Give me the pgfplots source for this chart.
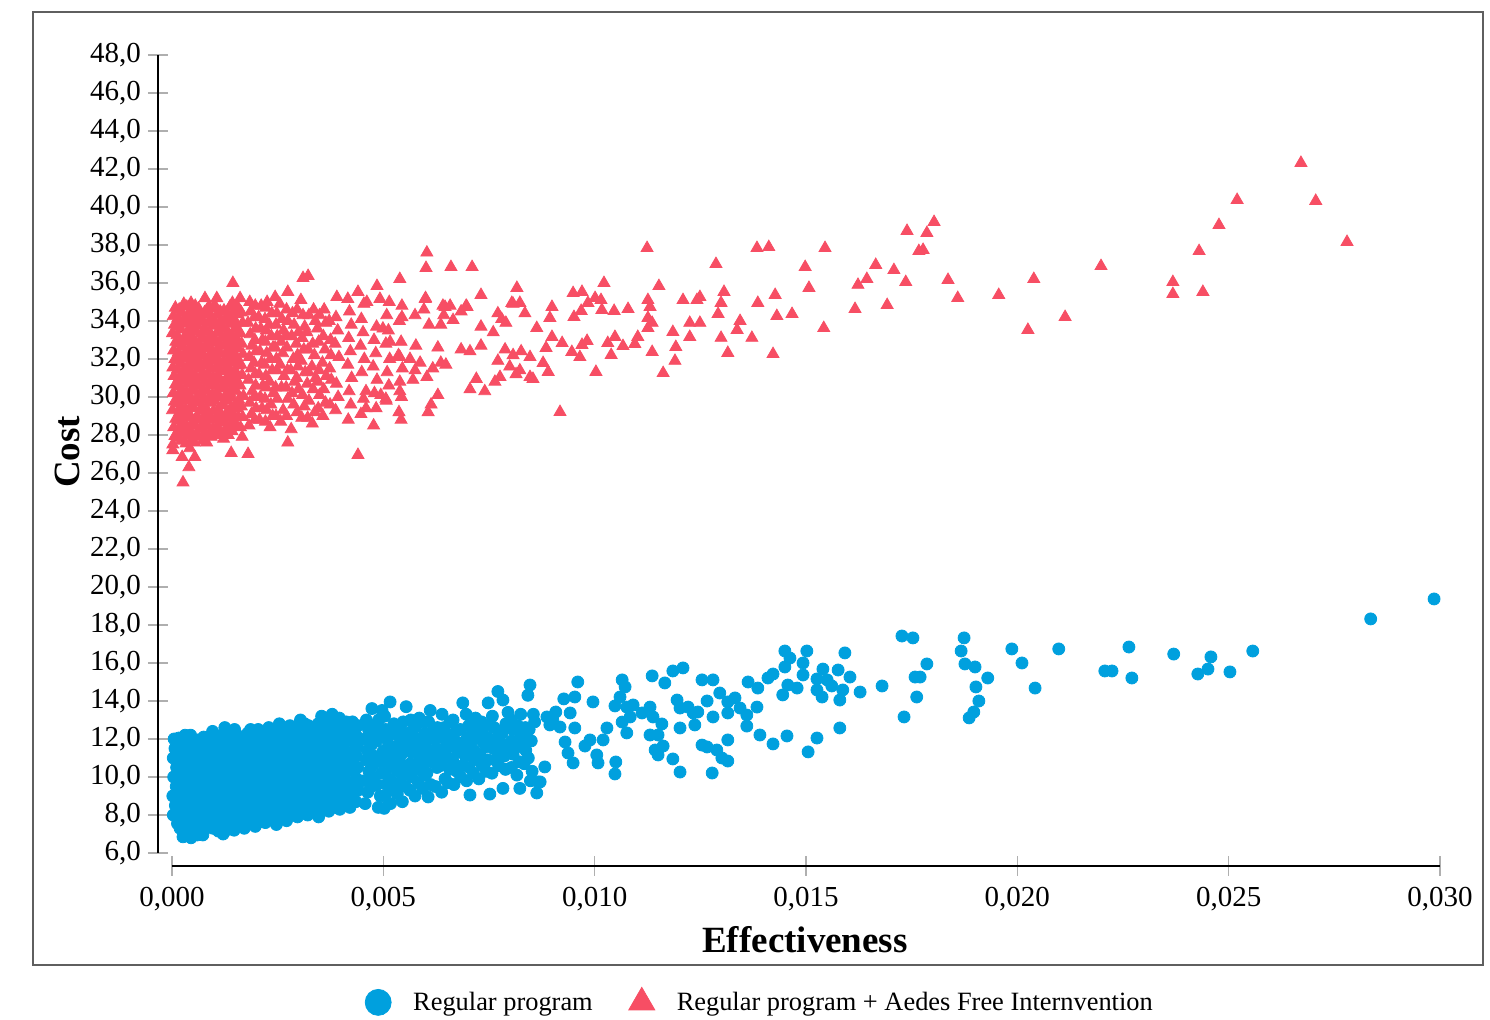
\documentclass[border=0pt]{standalone}
\usepackage{pgfplots}
\pgfplotsset{compat=1.18}
\usepackage{fontspec}
\setmainfont{Liberation Serif}
\definecolor{cblue}{RGB}{0,160,222}
\definecolor{cred}{RGB}{247,78,100}
\definecolor{framegray}{RGB}{95,95,95}
\definecolor{tickgray}{RGB}{175,175,175}
\pgfplotstableread{
x y
0.00003 8.0
0.00008 8.5
0.00002 9.0
0.00010 9.5
0.00004 10.0
0.00011 10.5
0.00003 11.0
0.00007 11.5
0.00005 12.0
0.00019 7.3
0.00028 7.8
0.00022 8.3
0.00031 8.8
0.00018 9.3
0.00026 9.8
0.00033 10.3
0.00020 10.8
0.00029 11.3
0.00024 11.8
0.00031 12.2
0.00026 6.85
0.00045 6.8
0.00052 7.2
0.00048 7.7
0.00056 8.2
0.00043 8.7
0.00051 9.2
0.00058 9.7
0.00046 10.2
0.00054 10.7
0.00049 11.2
0.00057 11.7
0.00044 12.2
0.00072 7.1
0.00079 7.6
0.00068 8.1
0.00076 8.6
0.00081 9.1
0.00070 9.6
0.00077 10.1
0.00073 10.6
0.00080 11.1
0.00069 11.6
0.00075 12.1
0.00073 6.95
0.00097 7.3
0.00104 7.8
0.00095 8.3
0.00102 8.8
0.00099 9.4
0.00106 9.9
0.00094 10.4
0.00101 10.9
0.00098 11.4
0.00105 11.9
0.00096 12.4
0.00121 7.0
0.00128 7.5
0.00123 8.0
0.00131 8.5
0.00119 9.0
0.00126 9.5
0.00130 10.0
0.00122 10.5
0.00127 11.0
0.00124 11.5
0.00129 12.0
0.00125 12.6
0.00147 7.2
0.00153 7.7
0.00145 8.2
0.00156 8.7
0.00149 9.2
0.00152 9.7
0.00144 10.2
0.00155 10.7
0.00150 11.2
0.00146 11.7
0.00154 12.2
0.00148 12.5
0.00171 7.3
0.00178 7.8
0.00174 8.4
0.00180 8.9
0.00169 9.4
0.00176 9.9
0.00181 10.4
0.00172 10.9
0.00177 11.4
0.00173 11.9
0.00179 12.3
0.00197 7.4
0.00203 7.9
0.00195 8.4
0.00206 8.9
0.00199 9.4
0.00202 9.9
0.00194 10.4
0.00205 10.9
0.00200 11.4
0.00196 11.9
0.00204 12.5
0.00221 7.6
0.00228 8.1
0.00224 8.6
0.00231 9.1
0.00219 9.6
0.00226 10.1
0.00230 10.6
0.00222 11.1
0.00227 11.6
0.00223 12.1
0.00229 12.6
0.00247 7.5
0.00253 8.0
0.00245 8.6
0.00256 9.1
0.00249 9.6
0.00252 10.1
0.00244 10.6
0.00255 11.1
0.00250 11.6
0.00246 12.1
0.00254 12.8
0.00271 7.7
0.00278 8.2
0.00274 8.7
0.00280 9.2
0.00269 9.7
0.00276 10.2
0.00281 10.7
0.00272 11.2
0.00277 11.7
0.00273 12.2
0.00279 12.7
0.00297 7.9
0.00303 8.4
0.00295 8.9
0.00306 9.4
0.00299 9.9
0.00302 10.4
0.00294 10.9
0.00305 11.4
0.00300 11.9
0.00296 12.4
0.00304 13.0
0.00321 8.0
0.00328 8.5
0.00324 9.0
0.00331 9.6
0.00319 10.1
0.00326 10.6
0.00330 11.1
0.00322 11.6
0.00327 12.1
0.00323 12.7
0.00347 7.9
0.00353 8.6
0.00345 9.1
0.00356 9.6
0.00349 10.1
0.00352 10.6
0.00344 11.2
0.00355 11.7
0.00350 12.2
0.00346 12.8
0.00354 13.2
0.00371 8.2
0.00378 8.7
0.00374 9.3
0.00380 9.8
0.00369 10.3
0.00376 10.8
0.00381 11.3
0.00372 11.8
0.00377 12.3
0.00373 12.9
0.00379 13.3
0.00397 8.3
0.00403 8.9
0.00395 9.5
0.00406 10.0
0.00399 10.5
0.00402 11.0
0.00394 11.6
0.00405 12.1
0.00400 12.6
0.00396 13.1
0.00421 8.4
0.00428 9.0
0.00424 9.6
0.00431 10.3
0.00419 10.8
0.00426 11.3
0.00430 11.9
0.00422 12.4
0.00427 12.9
0.00013 7.55
0.00017 8.05
0.00015 8.55
0.00018 9.05
0.00012 9.55
0.00016 10.05
0.00014 10.55
0.00017 11.05
0.00013 11.55
0.00016 12.05
0.00035 7.0
0.00040 7.5
0.00037 8.0
0.00039 8.5
0.00036 9.0
0.00038 9.5
0.00035 10.0
0.00040 10.5
0.00037 11.0
0.00039 11.5
0.00036 12.0
0.00060 6.95
0.00065 7.45
0.00062 7.95
0.00064 8.45
0.00061 8.95
0.00063 9.45
0.00060 9.95
0.00065 10.45
0.00062 10.95
0.00064 11.45
0.00061 11.95
0.00085 7.35
0.00090 7.85
0.00087 8.35
0.00089 8.85
0.00086 9.35
0.00088 9.85
0.00085 10.35
0.00090 10.85
0.00087 11.35
0.00089 11.85
0.00110 7.15
0.00115 7.65
0.00112 8.15
0.00114 8.65
0.00111 9.15
0.00113 9.65
0.00110 10.15
0.00115 10.65
0.00112 11.15
0.00114 11.65
0.00111 12.15
0.00135 7.25
0.00140 7.75
0.00137 8.25
0.00139 8.75
0.00136 9.25
0.00138 9.75
0.00135 10.25
0.00140 10.75
0.00137 11.25
0.00139 11.75
0.00136 12.3
0.00160 7.45
0.00165 7.95
0.00162 8.45
0.00164 8.95
0.00161 9.45
0.00163 9.95
0.00160 10.45
0.00165 10.95
0.00162 11.45
0.00164 11.95
0.00185 7.55
0.00190 8.1
0.00187 8.6
0.00189 9.1
0.00186 9.6
0.00188 10.1
0.00185 10.6
0.00190 11.1
0.00187 11.6
0.00189 12.1
0.00186 12.5
0.00210 7.65
0.00215 8.15
0.00212 8.65
0.00214 9.15
0.00211 9.65
0.00213 10.15
0.00210 10.65
0.00215 11.15
0.00212 11.65
0.00214 12.2
0.00235 7.8
0.00240 8.3
0.00237 8.8
0.00239 9.3
0.00236 9.8
0.00238 10.3
0.00235 10.8
0.00240 11.3
0.00237 11.8
0.00239 12.4
0.00260 7.9
0.00265 8.4
0.00262 8.9
0.00264 9.4
0.00261 9.9
0.00263 10.4
0.00260 10.9
0.00265 11.4
0.00262 11.9
0.00264 12.45
0.00285 8.0
0.00290 8.5
0.00287 9.0
0.00289 9.5
0.00286 10.0
0.00288 10.5
0.00285 11.0
0.00290 11.5
0.00287 12.0
0.00289 12.6
0.00310 8.2
0.00315 8.7
0.00312 9.2
0.00314 9.7
0.00311 10.2
0.00313 10.7
0.00310 11.2
0.00315 11.7
0.00312 12.2
0.00314 12.8
0.00335 8.3
0.00340 8.8
0.00337 9.3
0.00339 9.8
0.00336 10.3
0.00338 10.9
0.00335 11.4
0.00340 11.9
0.00337 12.5
0.00360 8.4
0.00365 8.9
0.00362 9.4
0.00364 9.9
0.00361 10.4
0.00363 11.0
0.00360 11.5
0.00365 12.0
0.00362 12.6
0.00364 13.0
0.00385 8.5
0.00390 9.0
0.00387 9.6
0.00389 10.1
0.00386 10.6
0.00388 11.1
0.00385 11.6
0.00390 12.1
0.00387 12.7
0.00410 8.6
0.00415 9.2
0.00412 9.8
0.00414 10.3
0.00411 10.8
0.00413 11.3
0.00410 11.8
0.00415 12.4
0.00412 12.9
0.00435 8.7
0.00440 9.3
0.00437 9.9
0.00439 10.5
0.00436 11.1
0.00438 11.6
0.00435 12.2
0.00440 12.7
0.00457 8.6
0.00463 9.2
0.00455 9.8
0.00466 10.3
0.00459 10.9
0.00462 11.4
0.00454 12.0
0.00465 12.5
0.00460 13.0
0.00473 13.6
0.00488 8.4
0.00502 8.35
0.00493 9.0
0.00485 9.6
0.00496 10.2
0.00490 10.8
0.00498 11.3
0.00484 11.9
0.00494 12.4
0.00489 13.0
0.00497 13.5
0.00517 8.6
0.00524 9.3
0.00515 9.9
0.00526 10.5
0.00519 11.1
0.00522 11.6
0.00514 12.2
0.00525 12.8
0.00516 13.95
0.00545 8.7
0.00552 9.5
0.00548 10.1
0.00556 10.6
0.00543 11.2
0.00551 11.7
0.00554 12.3
0.00547 12.9
0.00554 13.7
0.00575 9.0
0.00583 9.7
0.00577 10.4
0.00586 11.0
0.00579 11.5
0.00582 12.0
0.00574 12.6
0.00585 13.1
0.00606 8.95
0.00612 9.6
0.00603 10.2
0.00615 10.8
0.00609 11.3
0.00601 11.8
0.00613 12.3
0.00607 12.9
0.00611 13.5
0.00638 9.2
0.00646 9.9
0.00635 10.6
0.00642 11.1
0.00648 11.6
0.00637 12.1
0.00644 12.6
0.00639 13.3
0.00667 9.6
0.00674 10.3
0.00664 10.9
0.00676 11.4
0.00669 11.9
0.00672 12.4
0.00665 13.0
0.00688 13.9
0.00705 9.05
0.00697 9.8
0.00703 10.5
0.00694 11.1
0.00706 11.6
0.00699 12.1
0.00702 12.7
0.00696 13.3
0.00726 9.9
0.00734 10.6
0.00729 11.2
0.00737 11.8
0.00725 12.3
0.00732 12.9
0.00748 13.9
0.00752 9.1
0.00757 10.2
0.00764 10.9
0.00760 11.5
0.00767 12.0
0.00762 12.6
0.00771 14.5
0.00758 13.2
0.00783 9.4
0.00789 10.4
0.00786 11.1
0.00793 11.7
0.00781 12.3
0.00790 12.8
0.00783 14.05
0.00795 13.4
0.00823 9.4
0.00816 10.1
0.00822 10.8
0.00819 11.6
0.00826 12.2
0.00818 12.7
0.00825 13.3
0.00847 14.84
0.00842 14.3
0.00845 12.5
0.00850 11.9
0.00843 11.0
0.00852 10.3
0.00848 9.8
0.00863 9.16
0.00866 9.74
0.00858 12.9
0.00855 13.3
0.00473 9.5
0.00477 10.0
0.00474 10.6
0.00476 11.1
0.00472 11.7
0.00478 12.2
0.00475 12.7
0.00503 9.0
0.00507 9.6
0.00504 10.2
0.00506 10.8
0.00502 11.4
0.00508 12.0
0.00505 12.5
0.00503 13.2
0.00533 9.1
0.00537 9.7
0.00534 10.3
0.00536 10.9
0.00532 11.5
0.00538 12.1
0.00535 12.6
0.00563 9.3
0.00567 10.0
0.00564 10.7
0.00566 11.3
0.00562 11.9
0.00568 12.4
0.00565 13.0
0.00593 9.4
0.00597 10.1
0.00594 10.7
0.00596 11.2
0.00592 11.8
0.00598 12.3
0.00595 12.9
0.00623 9.5
0.00627 10.5
0.00624 11.0
0.00626 11.5
0.00622 12.0
0.00628 12.6
0.00653 9.7
0.00657 10.4
0.00654 11.0
0.00656 11.6
0.00652 12.2
0.00658 12.9
0.00683 10.0
0.00687 10.6
0.00684 11.3
0.00686 11.8
0.00682 12.5
0.00713 10.2
0.00717 10.9
0.00714 11.4
0.00716 12.0
0.00712 12.6
0.00718 13.1
0.00743 10.3
0.00747 10.9
0.00744 11.6
0.00746 12.1
0.00742 12.7
0.00773 10.6
0.00777 11.3
0.00774 11.9
0.00776 12.4
0.00803 10.5
0.00807 11.2
0.00804 11.9
0.00806 12.5
0.00802 13.0
0.00833 10.7
0.00837 11.4
0.00834 12.0
0.00836 12.6
0.00960 15.00
0.00927 14.11
0.00953 14.21
0.00996 13.95
0.00942 13.37
0.00953 12.58
0.00887 13.16
0.00901 13.0
0.00918 12.63
0.00894 12.74
0.00908 13.42
0.00930 11.84
0.00937 11.26
0.00949 10.74
0.00882 10.53
0.00871 9.74
0.00977 11.63
0.00989 11.95
0.01020 11.95
0.01029 12.58
0.01005 11.16
0.01008 10.74
0.01050 10.79
0.01048 10.16
0.01065 15.11
0.01072 14.74
0.01060 14.21
0.01048 13.74
0.01076 13.68
0.01091 13.79
0.01065 12.89
0.01076 12.32
0.01084 13.16
0.01136 15.32
0.01166 14.95
0.01185 15.58
0.01209 15.74
0.01112 13.37
0.01131 13.68
0.01138 13.16
0.01159 12.79
0.01131 12.21
0.01150 12.21
0.01162 11.63
0.01143 11.42
0.01150 11.16
0.01185 10.95
0.01202 10.26
0.01195 14.05
0.01202 13.63
0.01221 13.68
0.01233 13.37
0.01244 13.42
0.01202 12.58
0.01237 12.74
0.01254 15.11
0.01280 15.11
0.01266 14.00
0.01280 13.16
0.01296 14.42
0.01315 13.95
0.01332 14.16
0.01315 13.37
0.01344 13.63
0.01360 13.26
0.01360 12.68
0.01254 11.68
0.01266 11.58
0.01289 11.42
0.01301 11.00
0.01315 10.84
0.01278 10.21
0.01315 11.95
0.01363 15.00
0.01386 14.68
0.01384 13.68
0.01391 12.21
0.01422 11.74
0.01455 12.16
0.01410 15.21
0.01422 15.42
0.01450 16.63
0.01462 16.26
0.01450 15.79
0.01457 14.84
0.01479 14.68
0.01445 14.32
0.01502 16.63
0.01493 16.00
0.01493 15.37
0.01526 15.16
0.01540 15.68
0.01550 15.11
0.01561 14.79
0.01576 15.63
0.01604 15.26
0.01592 16.53
0.01526 14.58
0.01538 14.21
0.01580 14.05
0.01587 14.58
0.01628 14.47
0.01580 12.58
0.01526 12.05
0.01505 11.32
0.01680 14.79
0.01727 17.42
0.01753 17.32
0.01786 15.95
0.01758 15.26
0.01770 15.26
0.01762 14.21
0.01732 13.16
0.01874 17.32
0.01867 16.63
0.01876 15.95
0.01900 15.79
0.01930 15.21
0.01902 14.74
0.01909 14.00
0.01897 13.42
0.01886 13.11
0.01987 16.74
0.02011 16.00
0.02042 14.68
0.02098 16.74
0.02207 15.58
0.02224 15.58
0.02264 16.84
0.02271 15.21
0.02370 16.47
0.02427 15.42
0.02451 15.68
0.02458 16.32
0.02503 15.53
0.02557 16.63
0.02836 18.32
0.02986 19.37
}\bluedata
\pgfplotstableread{
x y
0.00002 27.5
0.00007 27.95
0.00004 28.4
0.00009 28.85
0.00001 29.3
0.00006 29.75
0.00003 30.2
0.00008 30.65
0.00005 31.1
0.00002 31.55
0.00007 32.0
0.00004 32.45
0.00009 32.9
0.00001 33.35
0.00006 33.8
0.00003 34.25
0.00008 34.7
0.00022 27.7
0.00027 28.15
0.00024 28.6
0.00029 29.05
0.00021 29.5
0.00026 29.95
0.00023 30.4
0.00028 30.85
0.00025 31.3
0.00022 31.75
0.00027 32.2
0.00024 32.65
0.00029 33.1
0.00021 33.55
0.00026 34.0
0.00023 34.45
0.00028 34.9
0.00042 27.3
0.00047 27.75
0.00044 28.2
0.00049 28.65
0.00041 29.1
0.00046 29.55
0.00043 30.0
0.00048 30.45
0.00045 30.9
0.00042 31.35
0.00047 31.8
0.00044 32.25
0.00049 32.7
0.00041 33.15
0.00046 33.6
0.00043 34.05
0.00048 34.5
0.00045 34.95
0.00062 27.9
0.00067 28.35
0.00064 28.8
0.00069 29.25
0.00061 29.7
0.00066 30.15
0.00063 30.6
0.00068 31.05
0.00065 31.5
0.00062 31.95
0.00067 32.4
0.00064 32.85
0.00069 33.3
0.00061 33.75
0.00066 34.2
0.00063 34.65
0.00082 27.6
0.00087 28.05
0.00084 28.5
0.00089 28.95
0.00081 29.4
0.00086 29.85
0.00083 30.3
0.00088 30.75
0.00085 31.2
0.00082 31.65
0.00087 32.1
0.00084 32.55
0.00089 33.0
0.00081 33.45
0.00086 33.9
0.00083 34.35
0.00088 34.8
0.00102 28.0
0.00107 28.45
0.00104 28.9
0.00109 29.35
0.00101 29.8
0.00106 30.25
0.00103 30.7
0.00108 31.15
0.00105 31.6
0.00102 32.05
0.00107 32.5
0.00104 32.95
0.00109 33.4
0.00101 33.85
0.00106 34.3
0.00103 34.75
0.00122 27.8
0.00127 28.25
0.00124 28.7
0.00129 29.15
0.00121 29.6
0.00126 30.05
0.00123 30.5
0.00128 30.95
0.00125 31.4
0.00122 31.85
0.00127 32.3
0.00124 32.75
0.00129 33.2
0.00121 33.65
0.00126 34.1
0.00123 34.55
0.00142 28.2
0.00147 28.65
0.00144 29.1
0.00149 29.55
0.00141 30.0
0.00146 30.45
0.00143 30.9
0.00148 31.35
0.00145 31.8
0.00142 32.25
0.00147 32.7
0.00144 33.15
0.00149 33.6
0.00141 34.05
0.00146 34.5
0.00143 34.95
0.00162 28.4
0.00167 28.95
0.00164 29.5
0.00169 30.05
0.00161 30.6
0.00166 31.15
0.00163 31.7
0.00168 32.25
0.00165 32.8
0.00162 33.35
0.00167 33.9
0.00164 34.45
0.00013 27.85
0.00017 28.3
0.00015 28.75
0.00018 29.2
0.00012 29.65
0.00016 30.1
0.00014 30.55
0.00017 31.0
0.00013 31.45
0.00016 31.9
0.00015 32.35
0.00018 32.8
0.00012 33.25
0.00016 33.7
0.00014 34.15
0.00017 34.6
0.00033 27.55
0.00037 28.0
0.00035 28.45
0.00038 28.9
0.00032 29.35
0.00036 29.8
0.00034 30.25
0.00037 30.7
0.00033 31.15
0.00036 31.6
0.00035 32.05
0.00038 32.5
0.00032 32.95
0.00036 33.4
0.00034 33.85
0.00037 34.3
0.00035 34.75
0.00053 27.6
0.00057 28.05
0.00055 28.5
0.00058 28.95
0.00052 29.4
0.00056 29.85
0.00054 30.3
0.00057 30.75
0.00053 31.2
0.00056 31.65
0.00055 32.1
0.00058 32.55
0.00052 33.0
0.00056 33.45
0.00054 33.9
0.00057 34.35
0.00055 34.8
0.00073 27.7
0.00077 28.15
0.00075 28.6
0.00078 29.05
0.00072 29.5
0.00076 29.95
0.00074 30.4
0.00077 30.85
0.00073 31.3
0.00076 31.75
0.00075 32.2
0.00078 32.65
0.00072 33.1
0.00076 33.55
0.00074 34.0
0.00077 34.45
0.00093 27.9
0.00097 28.35
0.00095 28.8
0.00098 29.25
0.00092 29.7
0.00096 30.15
0.00094 30.6
0.00097 31.05
0.00093 31.5
0.00096 31.95
0.00095 32.4
0.00098 32.85
0.00092 33.3
0.00096 33.75
0.00094 34.2
0.00097 34.65
0.00113 28.2
0.00117 28.65
0.00115 29.1
0.00118 29.55
0.00112 30.0
0.00116 30.45
0.00114 30.9
0.00117 31.35
0.00113 31.8
0.00116 32.25
0.00115 32.7
0.00118 33.15
0.00112 33.6
0.00116 34.05
0.00114 34.5
0.00133 28.0
0.00137 28.45
0.00135 28.9
0.00138 29.35
0.00132 29.8
0.00136 30.25
0.00134 30.7
0.00137 31.15
0.00133 31.6
0.00136 32.05
0.00135 32.5
0.00138 32.95
0.00132 33.4
0.00136 33.85
0.00134 34.3
0.00137 34.75
0.00153 28.5
0.00157 28.95
0.00155 29.4
0.00158 29.85
0.00152 30.3
0.00156 30.75
0.00154 31.2
0.00157 31.65
0.00153 32.1
0.00156 32.55
0.00155 33.0
0.00158 33.45
0.00152 33.9
0.00156 34.35
0.00154 34.8
0.00182 28.5
0.00188 29.1
0.00184 29.7
0.00190 30.3
0.00181 30.9
0.00187 31.5
0.00183 32.1
0.00189 32.7
0.00185 33.3
0.00180 33.9
0.00186 34.5
0.00184 35.0
0.00196 28.8
0.00199 29.4
0.00195 30.0
0.00198 30.6
0.00197 31.2
0.00194 31.8
0.00199 32.4
0.00196 33.0
0.00198 33.6
0.00195 34.2
0.00197 34.8
0.00207 28.8
0.00213 29.4
0.00209 30.0
0.00215 30.6
0.00206 31.2
0.00212 31.8
0.00208 32.4
0.00214 33.0
0.00210 33.6
0.00205 34.2
0.00211 34.8
0.00221 28.7
0.00224 29.3
0.00220 29.9
0.00223 30.5
0.00222 31.1
0.00219 31.7
0.00224 32.3
0.00221 32.9
0.00223 33.5
0.00220 34.1
0.00222 34.7
0.00232 28.4
0.00238 29.0
0.00234 29.6
0.00240 30.2
0.00231 30.8
0.00237 31.4
0.00233 32.0
0.00239 32.6
0.00235 33.2
0.00230 33.8
0.00236 34.4
0.00246 29.0
0.00249 29.9
0.00245 30.5
0.00248 31.4
0.00247 32.0
0.00244 32.6
0.00249 33.2
0.00246 33.8
0.00248 34.4
0.00257 28.7
0.00263 29.3
0.00259 30.5
0.00265 31.1
0.00256 31.7
0.00262 32.3
0.00258 32.9
0.00264 33.5
0.00260 34.1
0.00255 34.9
0.00271 29.0
0.00274 29.9
0.00270 30.5
0.00273 31.4
0.00272 32.6
0.00269 33.2
0.00274 34.0
0.00271 34.6
0.00282 28.3
0.00288 29.6
0.00284 30.2
0.00290 30.8
0.00281 31.4
0.00287 32.0
0.00283 33.2
0.00289 33.8
0.00285 34.4
0.00296 29.2
0.00299 30.4
0.00295 31.0
0.00298 31.6
0.00297 32.2
0.00294 32.8
0.00299 33.4
0.00296 34.6
0.00307 28.9
0.00313 29.5
0.00309 30.1
0.00315 31.3
0.00306 31.9
0.00312 32.5
0.00308 33.1
0.00314 33.7
0.00310 34.3
0.00305 35.1
0.00321 28.9
0.00324 29.8
0.00320 30.7
0.00323 31.3
0.00322 32.5
0.00319 33.4
0.00324 34.3
0.00332 28.6
0.00338 29.2
0.00334 30.4
0.00340 31.0
0.00331 31.6
0.00337 32.2
0.00333 32.8
0.00339 34.0
0.00335 34.6
0.00346 29.4
0.00349 30.1
0.00345 30.8
0.00348 31.4
0.00347 32.9
0.00344 33.6
0.00349 34.3
0.00357 29.0
0.00363 29.7
0.00359 30.4
0.00365 31.1
0.00356 31.8
0.00362 32.5
0.00358 33.2
0.00364 33.9
0.00360 34.6
0.00374 29.6
0.00377 30.9
0.00373 31.5
0.00376 32.2
0.00375 33.0
0.00372 34.0
0.00387 29.3
0.00393 30.0
0.00389 30.7
0.00395 32.1
0.00386 32.8
0.00392 33.5
0.00388 34.2
0.00417 28.8
0.00423 29.6
0.00419 30.3
0.00425 31.0
0.00416 31.7
0.00422 32.4
0.00418 33.1
0.00424 33.8
0.00420 34.5
0.00447 29.1
0.00453 29.9
0.00449 31.3
0.00455 32.0
0.00446 32.7
0.00452 33.4
0.00448 34.1
0.00454 34.9
0.00477 28.5
0.00483 29.4
0.00479 30.2
0.00485 30.9
0.00476 31.6
0.00482 32.3
0.00478 33.0
0.00484 33.7
0.00507 29.8
0.00513 30.6
0.00509 31.3
0.00515 32.0
0.00506 32.8
0.00512 33.5
0.00508 34.3
0.00514 35.0
0.00537 29.2
0.00543 30.0
0.00539 30.8
0.00545 31.5
0.00536 32.2
0.00542 32.9
0.00538 34.0
0.00544 34.8
0.00002 27.2
0.00024 26.84
0.00040 26.3
0.00026 25.5
0.00054 26.84
0.00140 27.05
0.00180 27.0
0.00121 28.1
0.00166 27.9
0.00274 27.6
0.00440 26.95
0.00144 36.0
0.00078 35.2
0.00106 35.2
0.00161 35.2
0.00310 36.26
0.00322 36.37
0.00274 35.53
0.00244 35.26
0.00225 35.0
0.00390 35.26
0.00440 35.53
0.00416 35.16
0.00461 35.0
0.00485 35.84
0.00539 36.21
0.00601 36.79
0.00603 37.6
0.00660 36.84
0.00710 36.84
0.00492 35.16
0.00599 35.16
0.00731 35.37
0.00816 35.74
0.00646 34.74
0.00698 34.74
0.00804 34.95
0.00823 34.95
0.00499 33.6
0.00516 32.9
0.00544 34.2
0.00575 34.3
0.00600 35.2
0.00596 34.6
0.00608 33.8
0.00641 34.8
0.00658 34.8
0.00696 34.8
0.00684 34.5
0.00665 34.05
0.00643 34.3
0.00636 33.8
0.00629 32.6
0.00636 31.8
0.00648 31.7
0.00617 31.5
0.00603 31.05
0.00606 29.2
0.00613 29.6
0.00629 30.1
0.00705 32.4
0.00684 32.5
0.00705 30.4
0.00720 30.95
0.00740 30.3
0.00764 30.8
0.00776 31.05
0.00731 32.7
0.00731 33.7
0.00760 33.4
0.00771 34.4
0.00780 34.1
0.00790 33.9
0.00807 34.9
0.00835 34.4
0.00826 32.4
0.00807 32.2
0.00799 31.6
0.00823 31.4
0.00814 31.2
0.00847 31.05
0.00788 32.5
0.00771 31.9
0.00539 32.1
0.00563 32.0
0.00577 32.7
0.00587 31.8
0.00575 31.4
0.00570 30.9
0.00539 30.3
0.00506 29.9
0.00542 28.8
0.00494 30.1
0.00459 29.4
0.00459 30.3
0.01124 37.84
0.01287 37.0
0.01384 37.84
0.01412 37.89
0.01545 37.84
0.01498 36.84
0.01507 35.74
0.01739 38.74
0.01803 39.21
0.01786 38.63
0.01767 37.68
0.01777 37.74
0.01665 36.95
0.01644 36.21
0.01623 35.9
0.01708 36.68
0.01736 36.05
0.01616 34.63
0.01692 34.84
0.01836 36.16
0.01859 35.21
0.01956 35.37
0.02025 33.53
0.01542 33.63
0.01467 34.37
0.01431 34.26
0.01422 32.26
0.01427 35.37
0.01386 34.95
0.01372 33.11
0.01344 34.0
0.01337 33.53
0.01315 32.32
0.01299 33.11
0.01306 35.53
0.01299 34.95
0.01292 34.37
0.01249 35.26
0.01242 35.1
0.01209 35.1
0.01249 33.9
0.01225 33.9
0.01225 33.16
0.01192 32.63
0.01190 31.9
0.01185 33.42
0.01162 31.26
0.01152 35.84
0.01136 32.37
0.01126 35.1
0.01131 34.74
0.01126 34.16
0.01136 33.9
0.01126 33.63
0.01079 34.63
0.01102 33.16
0.01095 32.79
0.01067 32.68
0.01046 34.53
0.01048 33.16
0.01039 32.21
0.01031 32.84
0.01022 36.0
0.01015 35.1
0.01017 34.58
0.01001 35.21
0.00984 34.95
0.00970 35.53
0.00949 35.47
0.00968 34.53
0.00951 34.21
0.00982 32.95
0.00970 32.74
0.00965 32.1
0.00946 32.37
0.01003 31.32
0.00923 32.84
0.00899 34.74
0.00894 34.16
0.00899 33.16
0.00885 32.58
0.00863 33.63
0.00847 32.1
0.00878 31.79
0.00890 31.32
0.00854 30.95
0.00918 29.21
0.02671 42.32
0.02706 40.32
0.02780 38.16
0.02520 40.37
0.02477 39.05
0.02430 37.68
0.02368 36.05
0.02368 35.42
0.02439 35.53
0.02198 36.89
0.02039 36.21
0.02113 34.21
}\reddata
\begin{document}
\begin{tikzpicture}[x=1pt,y=1pt]
\useasboundingbox (0,0) rectangle (745,510);
\draw[framegray, line width=1pt] (16.5,27.5) rectangle (741.5,504);
\begin{axis}[
  at={(86pt,83.5pt)}, anchor=south west,
  scale only axis, width=634pt, height=399pt,
  xmin=0, xmax=0.03, ymin=6, ymax=48,
  clip=false,
  axis lines=left,
  axis line style={-, black, line width=0.9pt},
  axis x line shift=6.5pt,
  axis y line shift=7pt,
  xtick={0,0.005,0.01,0.015,0.02,0.025,0.03},
  ytick={6,8,...,48},
  scaled x ticks=false, scaled y ticks=false,
  tick style={tickgray, line width=0.8pt},
  major tick length=10pt,
  tick align=center,
  xticklabel style={yshift=-2pt, /pgf/number format/.cd, fixed, fixed zerofill, precision=3, use comma, assume math mode=true},
  yticklabel style={/pgf/number format/.cd, fixed, fixed zerofill, precision=1, use comma, assume math mode=true},
  tick label style={font=\fontsize{14.5}{16}\selectfont, text=black},
  legend style={at={(axis description cs:0.4645,-0.187)}, anchor=center, draw=none, fill=none,
    legend columns=2, font=\fontsize{13.2}{15}\selectfont,
    /tikz/every odd column/.append style={column sep=9pt},
    /tikz/every even column/.append style={column sep=16pt}},
]
\addlegendimage{only marks, mark=*, mark size=6.5pt, cblue}
\addlegendentry{Regular program}
\addlegendimage{only marks, mark=triangle*, mark size=7.5pt, cred}
\addlegendentry{Regular program + Aedes Free Internvention}
\addplot[only marks, mark=*, mark size=3.0pt, cblue, forget plot] table[x=x,y=y] {\bluedata};
\addplot[only marks, mark=triangle*, mark size=3.45pt, cred, forget plot] table[x=x,y=y] {\reddata};
\end{axis}
\node[font=\bfseries\fontsize{18.5}{20}\selectfont] at (402.5,40) {Effectiveness};
\node[rotate=90, font=\bfseries\fontsize{18.5}{20}\selectfont] at (33.5,284) {Cost};
\end{tikzpicture}
\end{document}
